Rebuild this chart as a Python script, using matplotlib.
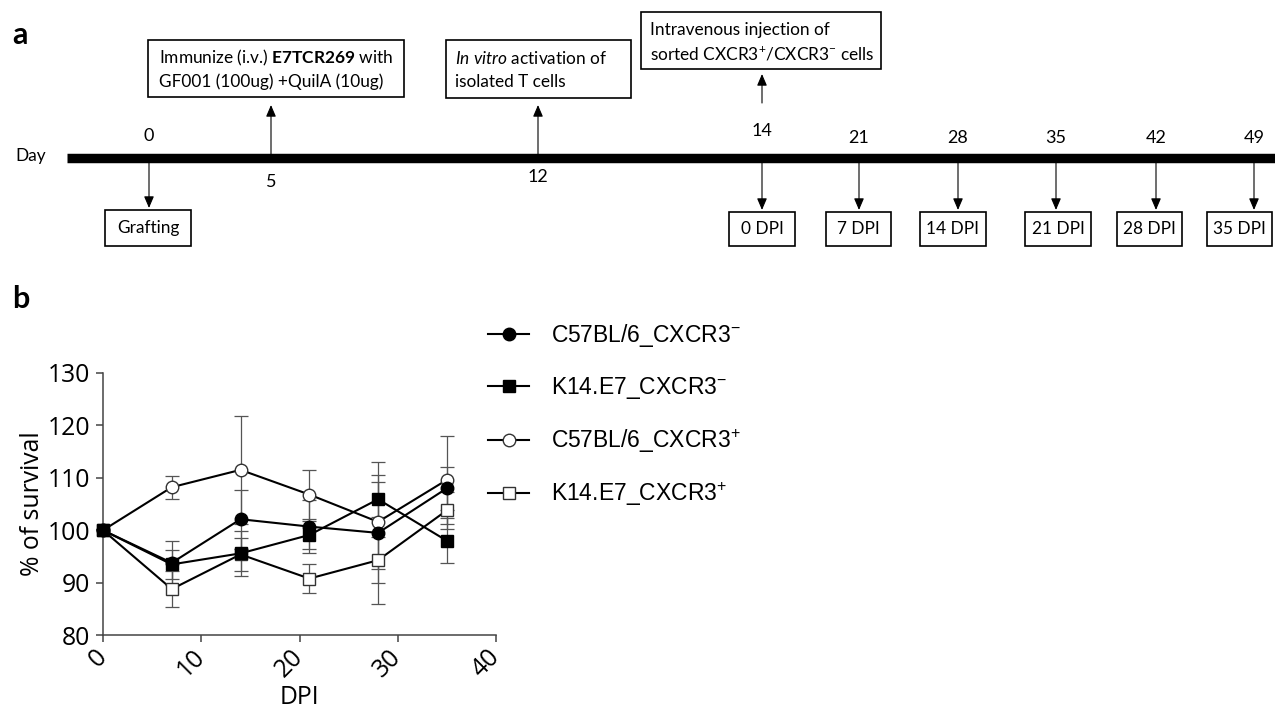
import matplotlib
matplotlib.use('Agg')
import matplotlib.pyplot as plt
from matplotlib.patches import Rectangle

plt.rcParams['mathtext.fontset'] = 'custom'
plt.rcParams['mathtext.rm'] = 'Lato'
plt.rcParams['mathtext.it'] = 'Lato:italic'
plt.rcParams['mathtext.bf'] = 'Lato:bold'

# ---------------- data ----------------
dpi_days = [0, 7, 14, 21, 28, 35]

c57_neg = [100, 93.8, 102.1, 100.7, 99.5, 108.0]
c57_neg_err = [0, 4.2, 5.6, 5.1, 9.6, 4.1]
k14_neg = [100, 93.5, 95.6, 99.1, 105.9, 98.0]
k14_neg_err = [0, 2.7, 4.3, 2.7, 7.1, 4.3]
c57_pos = [100, 108.2, 111.5, 106.8, 101.6, 109.6]
c57_pos_err = [0, 2.2, 10.3, 4.7, 9.0, 8.4]
k14_pos = [100, 88.8, 95.4, 90.8, 94.3, 103.8]
k14_pos_err = [0, 3.5, 3.1, 2.8, 8.3, 3.5]

series_labels = [r'C57BL/6_CXCR3$^{\mathregular{-}}$',
                 r'K14.E7_CXCR3$^{\mathregular{-}}$',
                 r'C57BL/6_CXCR3$^{\mathregular{+}}$',
                 r'K14.E7_CXCR3$^{\mathregular{+}}$']

y_ticks = [80, 90, 100, 110, 120, 130]
x_ticks = [0, 10, 20, 30, 40]

timeline_days = [0, 5, 12, 14, 21, 28, 35, 42, 49]
dpi_box_labels = ['0 DPI', '7 DPI', '14 DPI', '21 DPI', '28 DPI', '35 DPI']
event_immunize = [r'Immunize (i.v.) $\mathbf{E7TCR269}$ with', 'GF001 (100ug) +QuilA (10ug)']
event_invitro = [r'$\mathit{In\ vitro}$ activation of', 'isolated T cells']
event_inject = ['Intravenous injection of', r'sorted CXCR3$^{+}$/CXCR3$^{-}$ cells']
event_graft = 'Grafting'

# ---------------- layout (pixels) ----------------
W, H = 1275, 711
fig = plt.figure(figsize=(W / 100, H / 100), dpi=100)

axa = fig.add_axes([0, 0, 1, 1])
axa.set_xlim(0, W)
axa.set_ylim(H, 0)
axa.axis('off')

TL_X = [149, 271, 538, 762, 859, 958, 1056, 1156, 1254]
LINE_Y = 158
FA = ['Lato', 'DejaVu Sans']
fs_a = 12.4

axa.plot([67, W], [LINE_Y, LINE_Y], color='black', lw=6.8, solid_capstyle='butt')
axa.text(15, LINE_Y - 2, 'Day', family=FA, fontsize=fs_a, va='center', ha='left')
axa.text(12, 35, 'a', family=FA, fontsize=22, fontweight='bold', va='center', ha='left')
axa.text(12, 299, 'b', family=FA, fontsize=22, fontweight='bold', va='center', ha='left')

above = {0: 136, 14: 131, 21: 138, 28: 138, 35: 138, 42: 138, 49: 138}
below = {5: 182, 12: 177}
for d, x in zip(timeline_days, TL_X):
    y = above.get(d, below.get(d))
    axa.text(x, y, str(d), family=FA, fontsize=fs_a + 0.6, ha='center', va='center')


def arrow(x, y0, y1):
    axa.annotate('', xy=(x, y1), xytext=(x, y0),
                 arrowprops=dict(arrowstyle='-|>,head_length=0.7,head_width=0.3',
                                 lw=0.8, color='black', shrinkA=0, shrinkB=0,
                                 mutation_scale=10))


def box(x0, y0, x1, y1):
    axa.add_patch(Rectangle((x0, y0), x1 - x0, y1 - y0, fill=False,
                            ec='black', lw=1.2))


arrow(TL_X[0], LINE_Y + 4, 208)
box(105, 210, 191, 246)
axa.text(148, 228, event_graft, family=FA, fontsize=fs_a, ha='center', va='center')

arrow(TL_X[1], LINE_Y - 4, 105)
box(148, 40, 404, 97)
axa.text(159, 58, event_immunize[0], family=FA, fontsize=fs_a, ha='left', va='center')
axa.text(159, 82, event_immunize[1], family=FA, fontsize=fs_a, ha='left', va='center')

arrow(TL_X[2], LINE_Y - 4, 105)
box(446, 40, 631, 98)
axa.text(455, 58, event_invitro[0], family=FA, fontsize=fs_a, ha='left', va='center')
axa.text(455, 82, event_invitro[1], family=FA, fontsize=fs_a, ha='left', va='center')

arrow(TL_X[3], 103, 74)
box(641, 12, 881, 69)
axa.text(650, 30, event_inject[0], family=FA, fontsize=fs_a, ha='left', va='center')
axa.text(650, 53, event_inject[1], family=FA, fontsize=fs_a, ha='left', va='center')

DPI_BOX_X = [(729, 795), (826, 891), (920, 986), (1025, 1091), (1117, 1182), (1207, 1272)]
for lab, x, (bx0, bx1) in zip(dpi_box_labels, TL_X[3:], DPI_BOX_X):
    arrow(x, LINE_Y + 4, 210)
    box(bx0, 212, bx1, 246)
    axa.text((bx0 + bx1) / 2, 229, lab, family=FA, fontsize=fs_a, ha='center', va='center')

# ---------------- panel b ----------------
FB = ['Open Sans', 'DejaVu Sans']
x0p, x1p, ytop, ybot = 103, 496, 372.7, 635.3
ax = fig.add_axes([x0p / W, 1 - ybot / H, (x1p - x0p) / W, (ybot - ytop) / H])

spine_c = '#444444'
err_c = '#555555'
styles = [
    dict(marker='o', mfc='black', mec='black'),
    dict(marker='s', mfc='black', mec='black'),
    dict(marker='o', mfc='white', mec='#333333'),
    dict(marker='s', mfc='white', mec='#333333'),
]
zorders = [5, 6, 3, 4]
values = [c57_neg, k14_neg, c57_pos, k14_pos]
errors = [c57_neg_err, k14_neg_err, c57_pos_err, k14_pos_err]

handles = []
for vals, errs, st, lab, z in zip(values, errors, styles, series_labels, zorders):
    ax.errorbar(dpi_days[1:], vals[1:], yerr=errs[1:], fmt='none', ecolor=err_c,
                elinewidth=0.9, capsize=5, capthick=0.9, zorder=2)
    ln, = ax.plot(dpi_days, vals, color='black', lw=1.5, ms=9, mew=1.0,
                  label=lab, zorder=z, clip_on=False, **st)
    handles.append(ln)

ax.set_xlim(0, 40)
ax.set_ylim(80, 130)
ax.set_yticks(y_ticks)
ax.set_xticks(x_ticks)
for s in ['top', 'right']:
    ax.spines[s].set_visible(False)
for s in ['left', 'bottom']:
    ax.spines[s].set_color(spine_c)
    ax.spines[s].set_linewidth(1.1)
ax.tick_params(axis='both', colors=spine_c, width=1.1, length=5, labelcolor='black')
ax.tick_params(axis='y', pad=4)
ax.tick_params(axis='x', pad=8)
for t in ax.get_yticklabels():
    t.set_family(FB)
    t.set_fontsize(17.8)
for t in ax.get_xticklabels():
    t.set_family(FB)
    t.set_fontsize(17.8)
    t.set_rotation(45)
    t.set_ha('right')
    t.set_va('center')
    t.set_rotation_mode('anchor')
ax.set_ylabel('% of survival', family=FB, fontsize=17.8, labelpad=2)
ax.set_xlabel('DPI', family=FB, fontsize=17.8, labelpad=2)

leg = fig.legend(handles=handles, labels=series_labels, loc='upper left',
                 bbox_to_anchor=(488 / W, 1 - 322 / H), frameon=False,
                 prop={'family': ['Liberation Sans', 'DejaVu Sans'], 'size': 16.5},
                 handlelength=1.8, handletextpad=0.95, labelspacing=1.15,
                 borderpad=0, borderaxespad=0)

fig.savefig('out.png', dpi=100)
